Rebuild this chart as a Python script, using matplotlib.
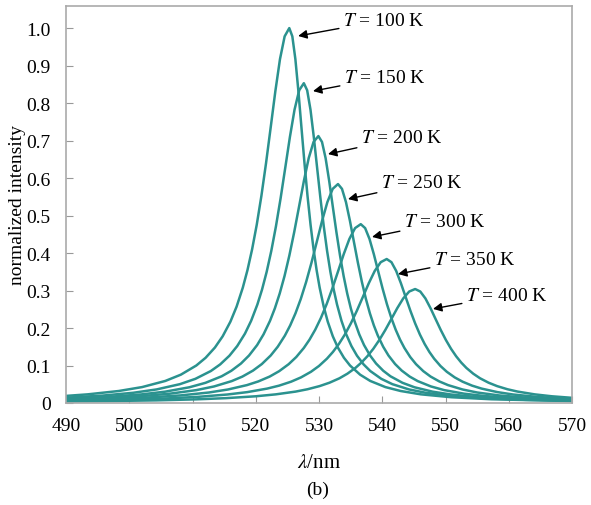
import numpy as np
import matplotlib
matplotlib.use("Agg")
import matplotlib.pyplot as plt

# Data (wavelength in nm, normalized intensity) ----------------------------
lam_100 = [490, 493.45, 498.35, 502.025, 505.7, 508.15, 510.6, 512.07, 513.54, 514.765, 515.99, 516.97,
           517.95, 518.685, 519.42, 520.155, 520.89, 521.625, 522.36, 523.095, 523.83, 524.565, 525.3,
           525.78, 526.26, 526.74, 527.22, 527.7, 528.18, 528.66, 529.14, 529.62, 530.1, 530.74, 531.38,
           532.18, 532.98, 533.94, 534.9, 536.5, 538.1, 540.5, 542.9, 546.1, 550.9, 557.3, 570]
int_100 = [0.0189, 0.0231, 0.032, 0.0424, 0.0588, 0.0755, 0.1, 0.1206, 0.1479, 0.1779, 0.2169, 0.2571,
           0.3077, 0.3543, 0.4098, 0.4756, 0.5525, 0.64, 0.7353, 0.8316, 0.9174, 0.978, 1.0,
           0.978, 0.9174, 0.8316, 0.7353, 0.64, 0.5525, 0.4756, 0.4098, 0.3543, 0.3077, 0.2571, 0.2169,
           0.1779, 0.1479, 0.1206, 0.1, 0.0755, 0.0588, 0.0424, 0.032, 0.0231, 0.0154, 0.0099, 0.0051]

lam_150 = [490, 495.75, 500.65, 504.325, 508.0, 510.45, 512.9, 514.37, 515.84, 517.065, 518.29, 519.27,
           520.25, 520.985, 521.72, 522.455, 523.19, 523.925, 524.66, 525.395, 526.13, 526.865, 527.6,
           528.125, 528.65, 529.175, 529.7, 530.225, 530.75, 531.275, 531.8, 532.325, 532.85, 533.55,
           534.25, 535.125, 536.0, 537.05, 538.1, 539.85, 541.6, 544.225, 546.85, 550.35, 555.6, 562.6, 570]
int_150 = [0.0142, 0.0197, 0.0273, 0.0362, 0.0502, 0.0644, 0.0853, 0.1029, 0.1262, 0.1518, 0.1850, 0.2193,
           0.2625, 0.3022, 0.3496, 0.4057, 0.4713, 0.5459, 0.6272, 0.7094, 0.7825, 0.8342, 0.853,
           0.8342, 0.7825, 0.7094, 0.6272, 0.5459, 0.4713, 0.4057, 0.3496, 0.3022, 0.2625, 0.2193,
           0.1850, 0.1518, 0.1262, 0.1029, 0.0853, 0.0644, 0.0502, 0.0362, 0.0273, 0.0197, 0.0131, 0.0084, 0.0058]

lam_200 = [490, 496.75, 501.85, 505.675, 509.5, 512.05, 514.6, 516.13, 517.66, 518.935, 520.21, 521.23,
           522.25, 523.015, 523.78, 524.545, 525.31, 526.075, 526.84, 527.605, 528.37, 529.135, 529.9,
           530.47, 531.04, 531.61, 532.18, 532.75, 533.32, 533.89, 534.46, 535.03, 535.6, 536.36, 537.12,
           538.07, 539.02, 540.16, 541.3, 543.2, 545.1, 547.95, 550.8, 554.6, 560.3, 567.9, 570]
int_200 = [0.0114, 0.0164, 0.0228, 0.0302, 0.0419, 0.0538, 0.0712, 0.0859, 0.1053, 0.1267, 0.1544, 0.1831,
           0.2191, 0.2523, 0.2918, 0.3386, 0.3934, 0.4557, 0.5235, 0.5921, 0.6532, 0.6963, 0.712,
           0.6963, 0.6532, 0.5921, 0.5235, 0.4557, 0.3934, 0.3386, 0.2918, 0.2523, 0.2191, 0.1831, 0.1544,
           0.1267, 0.1053, 0.0859, 0.0712, 0.0538, 0.0419, 0.0302, 0.0228, 0.0164, 0.0110, 0.0070, 0.0063]

lam_250 = [490, 496.6, 502.2, 506.4, 510.6, 513.4, 516.2, 517.88, 519.56, 520.96, 522.36, 523.48,
           524.6, 525.44, 526.28, 527.12, 527.96, 528.8, 529.64, 530.48, 531.32, 532.16, 533.0,
           533.63, 534.26, 534.89, 535.52, 536.15, 536.78, 537.41, 538.04, 538.67, 539.3, 540.14, 540.98,
           542.03, 543.08, 544.34, 545.6, 547.7, 549.8, 552.95, 556.1, 560.3, 566.6, 570]
int_250 = [0.0098, 0.0135, 0.0187, 0.0248, 0.0343, 0.0441, 0.0584, 0.0704, 0.0864, 0.1039, 0.1267, 0.1502,
           0.1797, 0.2069, 0.2393, 0.2777, 0.3227, 0.3738, 0.4294, 0.4857, 0.5358, 0.5712, 0.584,
           0.5712, 0.5358, 0.4857, 0.4294, 0.3738, 0.3227, 0.2777, 0.2393, 0.2069, 0.1797, 0.1502, 0.1267,
           0.1039, 0.0864, 0.0704, 0.0584, 0.0441, 0.0343, 0.0248, 0.0187, 0.0135, 0.0090, 0.0074]

lam_300 = [490, 497.6, 503.6, 508.1, 512.6, 515.6, 518.6, 520.4, 522.2, 523.7, 525.2, 526.4,
           527.6, 528.5, 529.4, 530.3, 531.2, 532.1, 533.0, 533.9, 534.8, 535.7, 536.6,
           537.29, 537.98, 538.67, 539.36, 540.05, 540.74, 541.43, 542.12, 542.81, 543.5, 544.42, 545.34,
           546.49, 547.64, 549.02, 550.4, 552.7, 555.0, 558.45, 561.9, 566.5, 570]
int_300 = [0.0078, 0.0110, 0.0153, 0.0202, 0.0280, 0.0360, 0.0477, 0.0575, 0.0705, 0.0849, 0.1035, 0.1226,
           0.1468, 0.1690, 0.1955, 0.2269, 0.2635, 0.3053, 0.3507, 0.3967, 0.4376, 0.4665, 0.477,
           0.4665, 0.4376, 0.3967, 0.3507, 0.3053, 0.2635, 0.2269, 0.1955, 0.1690, 0.1468, 0.1226, 0.1035,
           0.0849, 0.0705, 0.0575, 0.0477, 0.0360, 0.0280, 0.0202, 0.0153, 0.0110, 0.0089]

lam_350 = [490, 499.75, 506.05, 510.775, 515.5, 518.65, 521.8, 523.69, 525.58, 527.155, 528.73, 529.99,
           531.25, 532.195, 533.14, 534.085, 535.03, 535.975, 536.92, 537.865, 538.81, 539.755, 540.7,
           541.45, 542.2, 542.95, 543.7, 544.45, 545.2, 545.95, 546.7, 547.45, 548.2, 549.2, 550.2,
           551.45, 552.7, 554.2, 555.7, 558.2, 560.7, 564.45, 568.2, 570]
int_350 = [0.0058, 0.0089, 0.0123, 0.0163, 0.0226, 0.0290, 0.0384, 0.0463, 0.0568, 0.0683, 0.0833, 0.0987,
           0.1182, 0.1361, 0.1574, 0.1826, 0.2122, 0.2458, 0.2824, 0.3193, 0.3523, 0.3756, 0.384,
           0.3756, 0.3523, 0.3193, 0.2824, 0.2458, 0.2122, 0.1826, 0.1574, 0.1361, 0.1182, 0.0987, 0.0833,
           0.0683, 0.0568, 0.0463, 0.0384, 0.0290, 0.0226, 0.0163, 0.0123, 0.0109]

lam_400 = [490, 494.8, 504.25, 510.55, 515.275, 520.0, 523.15, 526.3, 528.19, 530.08, 531.655, 533.23,
           534.49, 535.75, 536.695, 537.64, 538.585, 539.53, 540.475, 541.42, 542.365, 543.31, 544.255,
           545.2, 546.01, 546.82, 547.63, 548.44, 549.25, 550.06, 550.87, 551.68, 552.49, 553.3, 554.38,
           555.46, 556.81, 558.16, 559.78, 561.4, 564.1, 566.8, 570]
int_400 = [0.0039, 0.0047, 0.0070, 0.0097, 0.0129, 0.0179, 0.0230, 0.0304, 0.0367, 0.0450, 0.0541, 0.0659,
           0.0782, 0.0935, 0.1077, 0.1246, 0.1446, 0.1680, 0.1946, 0.2235, 0.2528, 0.2789, 0.2973,
           0.304, 0.2973, 0.2789, 0.2528, 0.2235, 0.1946, 0.1680, 0.1446, 0.1246, 0.1077, 0.0935, 0.0782,
           0.0659, 0.0541, 0.0450, 0.0367, 0.0304, 0.0230, 0.0179, 0.0138]

temps = [100, 150, 200, 250, 300, 350, 400]
curves = [(lam_100, int_100), (lam_150, int_150), (lam_200, int_200), (lam_250, int_250),
          (lam_300, int_300), (lam_350, int_350), (lam_400, int_400)]

# arrow tips on the curves and label anchors
tip_lam = [526.7, 529.05, 531.42, 534.58, 538.38, 542.49, 548.02]
tip_val = [0.979, 0.832, 0.664, 0.544, 0.443, 0.344, 0.251]
txt_lam = [533.8, 533.95, 536.64, 539.8, 543.44, 548.18, 553.24]
txt_val = [1.021, 0.869, 0.707, 0.587, 0.483, 0.384, 0.288]

x_ticks = [490, 500, 510, 520, 530, 540, 550, 560, 570]
y_ticks = [0, 0.1, 0.2, 0.3, 0.4, 0.5, 0.6, 0.7, 0.8, 0.9, 1.0]
y_ticklabels = ["0", "0.1", "0.2", "0.3", "0.4", "0.5", "0.6", "0.7", "0.8", "0.9", "1.0"]

# Plot -------------------------------------------------------------------
plt.rcParams['font.family'] = ['Liberation Serif', 'DejaVu Serif']
plt.rcParams['mathtext.fontset'] = 'stix'

fig = plt.figure(figsize=(5.91, 5.06), dpi=100)
ax = fig.add_axes([0.1117, 0.2016, 0.8562, 0.7846])

line_col = '#2b928f'
for lam, val in curves:
    ax.plot(lam, val, color=line_col, lw=1.8, solid_joinstyle='round')

for i in range(len(temps)):
    ax.annotate(r'$T$ = %d K' % temps[i], xy=(tip_lam[i], tip_val[i]),
                xytext=(txt_lam[i], txt_val[i]), ha='left', va='center', fontsize=14,
                arrowprops=dict(arrowstyle='-|>', color='black', lw=1.0,
                                mutation_scale=13, shrinkA=1, shrinkB=0))

ax.set_xlim(490, 570)
ax.set_ylim(0, 1.059)
ax.set_xticks(x_ticks)
ax.set_yticks(y_ticks)
ax.set_yticklabels(y_ticklabels)
ax.tick_params(direction='in', length=5, width=0.8, color='#999999', labelsize=14)
ax.tick_params(axis='x', pad=10)
ax.tick_params(axis='y', pad=11)
for s in ax.spines.values():
    s.set_color('#aaaaaa')
    s.set_linewidth(1.2)

ax.set_xlabel(r'$\lambda$/nm', fontsize=15, labelpad=14)
ax.set_ylabel('normalized intensity', fontsize=14, labelpad=0)
fig.text(0.538, 0.030, '(b)', ha='center', va='center', fontsize=14)

fig.savefig('out.png', dpi=100)
